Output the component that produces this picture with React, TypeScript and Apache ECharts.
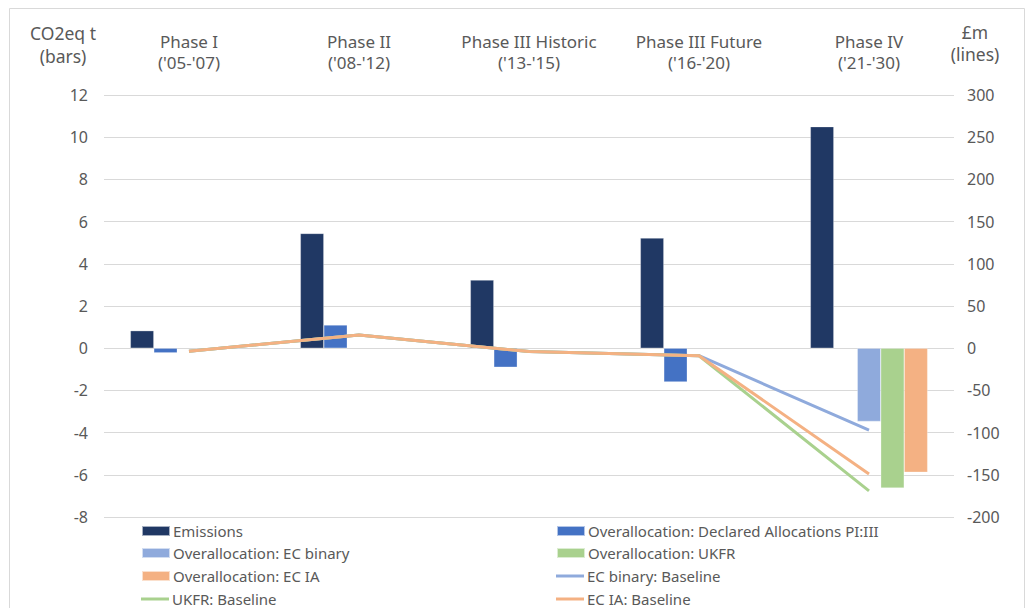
import React, { useEffect, useRef } from "react";
import * as echarts from "echarts";

const categories = ["Phase I\n('05-'07)", "Phase II\n('08-'12)", "Phase III Historic\n('13-'15)", "Phase III Future\n('16-'20)", "Phase IV\n('21-'30)"];
const emissions = [0.83, 5.44, 3.23, 5.22, 10.5];
const declaredAlloc = [-0.22, 1.1, -0.9, -1.6, null];
const ecBinaryBar = [null, null, null, null, -3.47];
const ukfrBar = [null, null, null, null, -6.63];
const ecIaBar = [null, null, null, null, -5.88];
const ecBinaryLine = [-3.5, 15.6, -4, -8.9, -97];
const ukfrLine = [-3.5, 15.6, -4, -8.9, -169];
const ecIaLine = [-3.5, 15.6, -4, -8.9, -149];

const FONT = "'Noto Sans', 'Open Sans', sans-serif";
const GREY = "#595959";

const legendItems = [
  { name: "Emissions", col: 0, row: 0, line: false },
  { name: "Overallocation: EC binary", col: 0, row: 1, line: false },
  { name: "Overallocation: EC IA", col: 0, row: 2, line: false },
  { name: "UKFR: Baseline", col: 0, row: 3, line: true },
  { name: "Overallocation: Declared Allocations PI:III", col: 1, row: 0, line: false },
  { name: "Overallocation: UKFR", col: 1, row: 1, line: false },
  { name: "EC binary: Baseline", col: 1, row: 2, line: true },
  { name: "EC IA: Baseline", col: 1, row: 3, line: true },
];
const legendCols = [141, 556];
const legendRows = [531, 553, 576, 599];

export default function App() {
  const ref = useRef<HTMLDivElement>(null);
  useEffect(() => {
    if (!ref.current) return;
    const chart = echarts.init(ref.current, null, { renderer: "svg" });
    const bar = (name: string, data: (number | null)[], color: string) => ({
      name,
      type: "bar",
      yAxisIndex: 0,
      data,
      barGap: "0%",
      barCategoryGap: "31%",
      itemStyle: { color, borderColor: "rgba(255,255,255,0.6)", borderWidth: 0.5 },
    });
    const line = (name: string, data: number[], color: string) => ({
      name,
      type: "line",
      yAxisIndex: 1,
      data,
      symbol: "none",
      lineStyle: { color, width: 3 },
      itemStyle: { color },
    });
    const legends = legendItems.map((it) => ({
      orient: "horizontal",
      left: legendCols[it.col],
      top: legendRows[it.row] - 9,
      padding: 0,
      itemWidth: 28,
      itemHeight: it.line ? 3 : 10,
      itemGap: 0,
      textStyle: { color: GREY, fontSize: 15, lineHeight: 18, fontFamily: FONT, padding: [0, 0, 0, -2] },
      data: [{ name: it.name, icon: "rect" }],
    }));
    chart.setOption({
      animation: false,
      textStyle: { fontFamily: FONT },
      grid: { left: 104, right: 73, top: 95, bottom: 91 },
      xAxis: {
        type: "category",
        position: "top",
        data: categories,
        axisLine: { show: false },
        axisTick: { show: false },
        axisLabel: { color: GREY, fontSize: 17, lineHeight: 21, margin: 22, interval: 0, hideOverlap: false, fontFamily: FONT },
      },
      yAxis: [
        {
          type: "value",
          min: -8,
          max: 12,
          interval: 2,
          axisLine: { show: false },
          axisTick: { show: false },
          axisLabel: { color: GREY, fontSize: 16, margin: 16, fontFamily: FONT },
          splitLine: { lineStyle: { color: "#d9d9d9", width: 1 } },
        },
        {
          type: "value",
          min: -200,
          max: 300,
          interval: 50,
          axisLine: { show: false },
          axisTick: { show: false },
          axisLabel: { color: GREY, fontSize: 16, margin: 13, fontFamily: FONT },
          splitLine: { show: false },
        },
      ],
      legend: legends,
      graphic: [
        {
          type: "rect",
          shape: { x: 9.5, y: 8.5, width: 1015, height: 640 },
          style: { fill: "none", stroke: "#d9d9d9", lineWidth: 1 },
          silent: true,
        },
        {
          type: "text",
          x: 63,
          y: 44.5,
          style: { text: "CO2eq t\n(bars)", fill: GREY, fontSize: 17.5, lineHeight: 23, align: "center", verticalAlign: "middle", fontFamily: FONT },
        },
        {
          type: "text",
          x: 975,
          y: 43,
          style: { text: "£m\n(lines)", fill: GREY, fontSize: 17.5, lineHeight: 22, align: "center", verticalAlign: "middle", fontFamily: FONT },
        },
      ],
      series: [
        bar("Emissions", emissions, "#203864"),
        bar("Overallocation: Declared Allocations PI:III", declaredAlloc, "#4472C4"),
        bar("Overallocation: EC binary", ecBinaryBar, "#8FAADC"),
        bar("Overallocation: UKFR", ukfrBar, "#A9D18E"),
        bar("Overallocation: EC IA", ecIaBar, "#F4B183"),
        line("EC binary: Baseline", ecBinaryLine, "#8FAADC"),
        line("UKFR: Baseline", ukfrLine, "#A9D18E"),
        line("EC IA: Baseline", ecIaLine, "#F4B183"),
      ],
    });
    return () => chart.dispose();
  }, []);
  return <div ref={ref} style={{ position: "fixed", left: 0, top: 0, width: 1027, height: 608, background: "#fff" }} />;
}
